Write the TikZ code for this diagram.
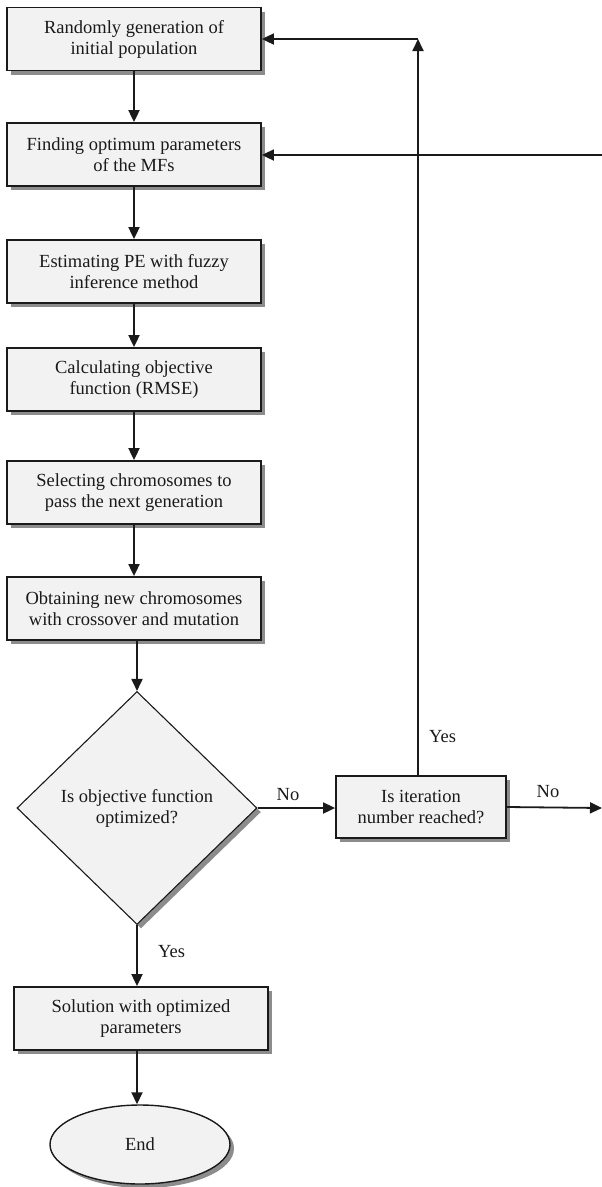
\documentclass[tikz,border=0pt]{standalone}
\usepackage{fontspec}
\setmainfont{Liberation Serif}
\usetikzlibrary{arrows.meta,shapes.geometric,shadows}
\definecolor{boxfill}{HTML}{F2F2F2}
\definecolor{ink}{HTML}{1A1A1A}
\begin{document}
\begin{tikzpicture}[x=1pt,y=-1pt,
  every node/.style={font=\fontsize{18.5}{21}\selectfont, text=ink},
  myshadow/.style={drop shadow={shadow xshift=4pt,shadow yshift=-4pt,fill=black!45,opacity=1}},
  procbox/.style={rectangle, draw=ink, line width=1.8pt, fill=boxfill, align=center,
    minimum width=254pt, minimum height=63pt, inner sep=0pt, myshadow},
  decision/.style={diamond, draw=ink, line width=1.1pt, fill=boxfill, align=center,
    minimum width=240pt, minimum height=233pt, inner sep=0pt, aspect=1, myshadow},
  terminal/.style={ellipse, draw=ink, line width=1.4pt, fill=boxfill,
    minimum width=180pt, minimum height=79pt, inner sep=0pt, myshadow},
  flow/.style={draw=ink, line width=1.8pt, -{Triangle[length=12pt,width=11pt]}},
  lbl/.style={inner sep=0pt}
]
\useasboundingbox (0,0) rectangle (602,1187);

\node[procbox] (b1) at (134,39) {Randomly generation of\\initial population};
\node[procbox] (b2) at (134,154.5) {Finding optimum parameters\\of the MFs};
\node[procbox] (b3) at (134,271.5) {Estimating PE with fuzzy\\inference method};
\node[procbox] (b4) at (134,379.5) {Calculating objective\\function (RMSE)};
\node[procbox] (b5) at (134,492.5) {Selecting chromosomes to\\pass the next generation};
\node[procbox] (b6) at (134,608.5) {Obtaining new chromosomes\\with crossover and mutation};
\node[decision] (d) at (137,808) {Is objective function\\optimized?};
\node[procbox, minimum width=170pt, minimum height=62pt] (it) at (421,807) {Is iteration\\number reached?};
\node[procbox] (sol) at (141,1018.5) {Solution with optimized\\parameters};
\node[terminal] (end) at (140,1144.5) {End};

\coordinate (corner) at (418,39);
\coordinate (rightin) at (602,155);
\coordinate (rightout) at (602,808);

\draw[flow] (b1) -- (b2);
\draw[flow] (b2) -- (b3);
\draw[flow] (b3) -- (b4);
\draw[flow] (b4) -- (b5);
\draw[flow] (b5) -- (b6);
\draw[flow] (b6.south -| d.north) -- (d.north);
\draw[flow] (d.east) -- (it.west |- d.east);
\draw[flow] (d.south) -- (d.south |- sol.north);
\draw[flow] (sol.south -| d.south) -- (end.north -| d.south);
\draw[flow] (it.north -| corner) -- (corner);
\draw[flow] (corner) -- (b1.east);
\draw[flow] (rightin) -- (b2.east |- rightin);
\draw[flow] (it.east) -- (rightout);

\node[lbl] (no1) at (288,795) {No};
\node[lbl] (no2) at (548,792) {No};
\node[lbl, anchor=west] (yes1) at (429,737) {Yes};
\node[lbl, anchor=west] (yes2) at (158,952) {Yes};
\end{tikzpicture}
\end{document}
